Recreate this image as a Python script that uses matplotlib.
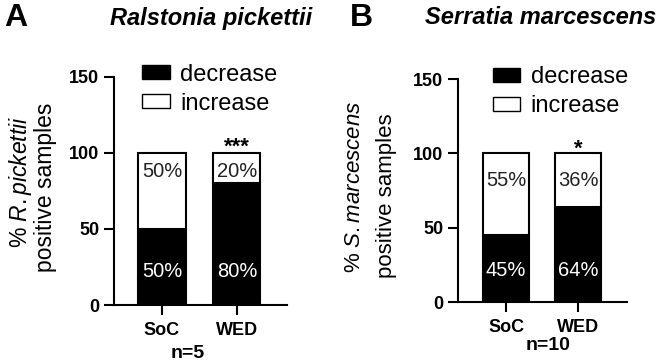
import numpy as np
import matplotlib.pyplot as plt
from matplotlib.patches import Patch

plt.rcParams['font.family'] = ['Liberation Sans', 'DejaVu Sans']
plt.rcParams['mathtext.fontset'] = 'custom'
plt.rcParams['mathtext.rm'] = 'Liberation Sans'
plt.rcParams['mathtext.it'] = 'Liberation Sans:italic'

groups = ['SoC', 'WED']
a_decrease = [50, 80]
a_increase = [50, 20]
b_decrease = [45, 64]
b_increase = [55, 36]
a_labels_dec = ['50%', '80%']
a_labels_inc = ['50%', '20%']
b_labels_dec = ['45%', '64%']
b_labels_inc = ['55%', '36%']

fig = plt.figure(figsize=(6.6, 3.61), dpi=100)
axA = fig.add_axes([0.1727, 0.155, 0.2623, 0.632])
axB = fig.add_axes([0.694, 0.163, 0.256, 0.618])


def panel(ax, dec, inc, lab_dec, lab_inc, ydec, yinc, xlim, star, star_y, leg_x):
    x = np.arange(len(groups))
    ax.bar(x, dec, width=0.63, color='black', edgecolor='black', linewidth=1.5)
    ax.bar(x, inc, bottom=dec, width=0.63, color='white', edgecolor='black', linewidth=1.5)
    for i in x:
        ax.text(i, ydec, lab_dec[i], color='white', ha='center', va='center', fontsize=14.5)
        ax.text(i, yinc, lab_inc[i], color='#222222', ha='center', va='center', fontsize=14.5)
    ax.text(1, star_y, star, ha='center', va='center', fontsize=16, fontweight='bold')
    ax.set_xlim(xlim)
    ax.set_ylim(0, 150)
    ax.set_yticks([0, 50, 100, 150])
    ax.set_xticks(x)
    ax.set_xticklabels(groups)
    for s in ['top', 'right']:
        ax.spines[s].set_visible(False)
    for s in ['left', 'bottom']:
        ax.spines[s].set_linewidth(1.5)
    ax.tick_params(width=1.5, length=7, labelsize=13)
    ax.tick_params(axis='x', pad=5)
    for t in ax.get_xticklabels() + ax.get_yticklabels():
        t.set_fontweight('bold')
    ax.legend(handles=[Patch(facecolor='black', edgecolor='black'),
                       Patch(facecolor='white', edgecolor='black')],
              labels=['decrease', 'increase'], loc='upper left',
              bbox_to_anchor=(leg_x, 1.1), frameon=False, fontsize=17,
              handlelength=1.15, handleheight=0.55, handletextpad=0.45,
              labelspacing=0.3, borderaxespad=0)


panel(axA, a_decrease, a_increase, a_labels_dec, a_labels_inc, 22, 88,
      (-0.64, 1.67), '***', 104, 0.11)
panel(axB, b_decrease, b_increase, b_labels_dec, b_labels_inc, 21.5, 82,
      (-0.667, 1.68), '*', 103, 0.15)

# y labels
fig.text(20 / 660, 1 - 182 / 361, '% $\\mathit{R.pickettii}$', rotation=90,
         ha='center', va='center', fontsize=16.5)
fig.text(46 / 660, 1 - 187 / 361, 'positive samples', rotation=90,
         ha='center', va='center', fontsize=16.5)
fig.text(354 / 660, 1 - 187 / 361, '% $\\mathit{S.marcescens}$', rotation=90,
         ha='center', va='center', fontsize=16)
fig.text(387 / 660, 1 - 196 / 361, 'positive samples', rotation=90,
         ha='center', va='center', fontsize=16)

# n labels
fig.text(188 / 660, 1 - 353 / 361, 'n=5', ha='center', va='center', fontsize=14, fontweight='bold')
fig.text(548 / 660, 1 - 346 / 361, 'n=10', ha='center', va='center', fontsize=14, fontweight='bold')

# panel letters and titles
fig.text(4 / 660, 1 - 18 / 361, 'A', ha='left', va='center', fontsize=23, fontweight='bold')
fig.text(350 / 660, 1 - 18 / 361, 'B', ha='left', va='center', fontsize=23, fontweight='bold')
fig.text(211 / 660, 1 - 18 / 361, 'Ralstonia pickettii', ha='center', va='center',
         fontsize=17, fontweight='bold', style='italic')
fig.text(541 / 660, 1 - 18 / 361, 'Serratia marcescens', ha='center', va='center',
         fontsize=17, fontweight='bold', style='italic')

fig.savefig('out.png', dpi=100)
